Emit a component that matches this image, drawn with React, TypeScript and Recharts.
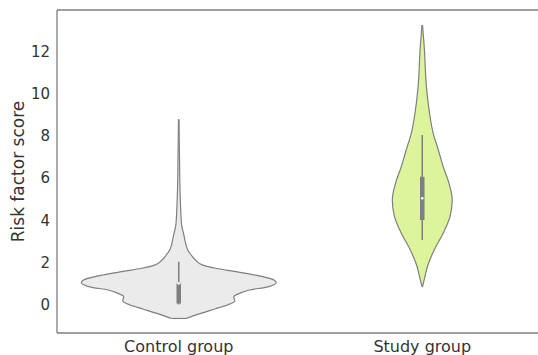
import React from 'react';
import {
  ComposedChart,
  Area,
  XAxis,
  YAxis,
  ReferenceLine,
  ReferenceDot,
} from 'recharts';

// categories sit at x = 0 and x = 1 (seaborn style positions)
const categories = ['Control group', 'Study group'];
const yTicks = [0, 2, 4, 6, 8, 10, 12];
const yDomain = [-1.35, 13.97];

// violin outlines: score value and half-width of the density (x units)
const controlScores = [-0.66, -0.63, -0.42, -0.21, -0.02, 0.17, 0.37, 0.53, 0.69, 0.84, 1.05, 1.24, 1.4, 1.56, 1.72, 1.87, 2.11, 2.35, 2.59, 2.82, 3.3, 3.77, 4.5, 5.5, 7.0, 8.79];
const controlWidths = [0.03, 0.037, 0.09, 0.148, 0.2, 0.23, 0.226, 0.25, 0.29, 0.366, 0.4, 0.374, 0.313, 0.235, 0.152, 0.099, 0.069, 0.051, 0.037, 0.03, 0.021, 0.012, 0.008, 0.005, 0.003, 0.001];

const studyScores = [0.84, 1.32, 1.79, 2.59, 3.38, 4.17, 4.96, 5.75, 6.54, 7.33, 8.12, 9.23, 10.49, 12.07, 13.26];
const studyWidths = [0.001, 0.011, 0.021, 0.049, 0.086, 0.114, 0.123, 0.11, 0.086, 0.066, 0.045, 0.028, 0.016, 0.009, 0.001];

// inner box: [whiskerLow, q1, median, q3, whiskerHigh]
const controlBox = [0.0, 0.05, 1.0, 1.0, 2.03];
const studyBox = [3.06, 4.01, 5.04, 6.06, 8.04];

const colors = ['#ebebeb', '#def49c'];
const edge = '#7f7f7f';

function violinData(scores: number[], widths: number[], center: number) {
  return scores.map((y, i) => ({ y, range: [center - widths[i], center + widths[i]] }));
}

const violins = [
  { data: violinData(controlScores, controlWidths, 0), box: controlBox, fill: colors[0] },
  { data: violinData(studyScores, studyWidths, 1), box: studyBox, fill: colors[1] },
];

const font = 'DejaVu Sans, sans-serif';

export default function App() {
  return (
    <div style={{ position: 'fixed', left: 0, top: 0, width: 538, height: 355, overflow: 'hidden', background: '#fff' }}>
      <ComposedChart
        width={560}
        height={355}
        layout="vertical"
        margin={{ top: 10, right: 16, bottom: 0, left: 0 }}
      >
        <XAxis
          type="number"
          dataKey="range"
          domain={[-0.5, 1.5]}
          ticks={[0, 1]}
          tickFormatter={(v: number) => categories[v]}
          height={22}
          tickLine={false}
          tickSize={6}
          tickMargin={2}
          axisLine={{ stroke: edge, strokeWidth: 1.3 }}
          tick={{ fill: '#333', fontSize: 16, fontFamily: font }}
          allowDataOverflow
        />
        <YAxis
          type="number"
          dataKey="y"
          domain={yDomain}
          ticks={yTicks}
          reversed
          width={57}
          tickLine={false}
          tickSize={6}
          tickMargin={1}
          axisLine={{ stroke: edge, strokeWidth: 1.3 }}
          tick={{ fill: '#333', fontSize: 15, fontFamily: font }}
          allowDataOverflow
          label={{
            value: 'Risk factor score',
            angle: -90,
            position: 'insideLeft',
            offset: 18,
            style: { textAnchor: 'middle', fill: '#333', fontSize: 17, fontFamily: font },
          }}
        />
        {/* top frame line */}
        <ReferenceLine y={yDomain[1]} stroke={edge} strokeWidth={1.3} />
        {violins.map((v, i) => (
          <Area
            key={categories[i]}
            data={v.data}
            dataKey="range"
            type="monotone"
            fill={v.fill}
            fillOpacity={1}
            stroke={edge}
            strokeWidth={1.2}
            dot={false}
            activeDot={false}
            isAnimationActive={false}
          />
        ))}
        {violins.map((v, i) => {
          const first = v.data[0];
          return (
            <ReferenceLine
              key={`base-${i}`}
              segment={[{ x: first.range[0], y: first.y }, { x: first.range[1], y: first.y }]}
              stroke={edge}
              strokeWidth={1.2}
            />
          );
        })}
        {violins.map((v, i) => (
          <ReferenceLine
            key={`whisker-${i}`}
            segment={[{ x: i, y: v.box[0] }, { x: i, y: v.box[4] }]}
            stroke={edge}
            strokeWidth={1.5}
          />
        ))}
        {violins.map((v, i) => (
          <ReferenceLine
            key={`box-${i}`}
            segment={[{ x: i, y: v.box[1] }, { x: i, y: v.box[3] }]}
            stroke={edge}
            strokeWidth={4.5}
          />
        ))}
        {violins.map((v, i) => (
          <ReferenceDot
            key={`median-${i}`}
            x={i}
            y={v.box[2]}
            r={1.3}
            fill="#fff"
            stroke="none"
          />
        ))}
      </ComposedChart>
    </div>
  );
}
